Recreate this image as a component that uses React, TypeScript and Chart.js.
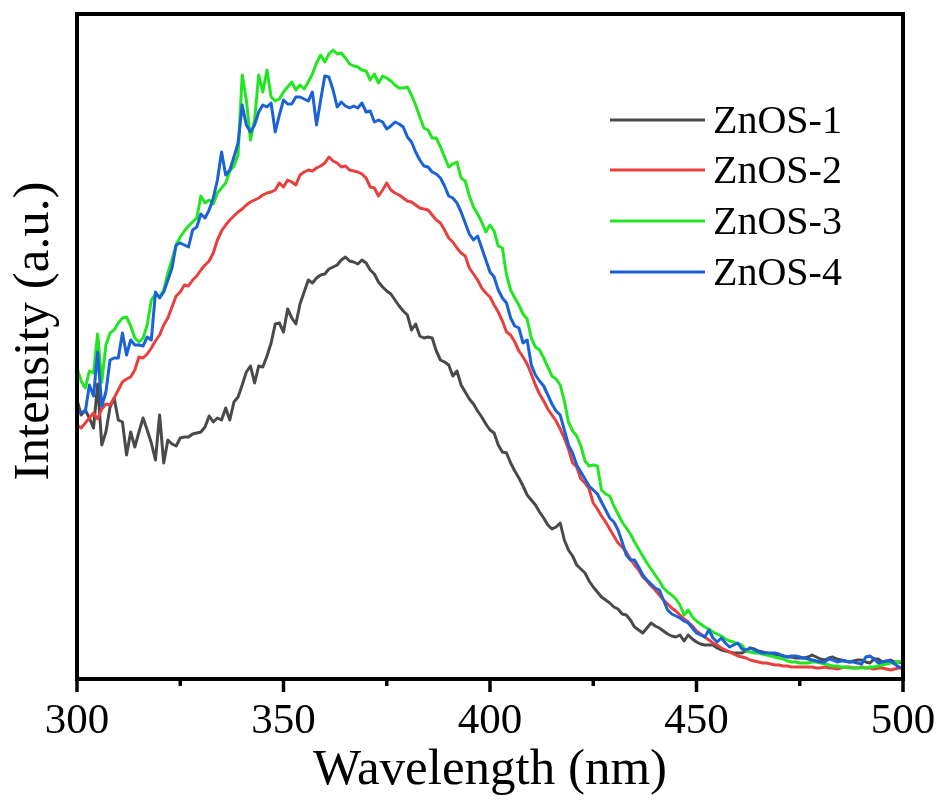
import React, { useEffect, useRef } from "react";
import { Chart, registerables } from "chart.js";

Chart.register(...registerables);

// Wavelength grid (nm), 1 nm step
const wavelengths: number[] = Array.from({ length: 201 }, (_, i) => 300 + i);

const seriesNames = ["ZnOS-1", "ZnOS-2", "ZnOS-3", "ZnOS-4"];
const seriesColors = ["#4a4a4a", "#e8403f", "#22e622", "#1a62d6"];

const xTickValues = [300, 350, 400, 450, 500];

// Intensity (a.u.)
const znos1: number[] = [
  55.8, 52.8, 53.8, 52.2, 50.2, 59.0, 46.8, 49.4, 54.4, 56.2,
  51.8, 51.4, 44.8, 49.4, 46.4, 49.4, 52.2, 49.8, 47.2, 43.8,
  52.8, 43.2, 47.8, 47.0, 46.6, 48.2, 48.4, 48.4, 49.0, 49.2,
  49.4, 50.4, 52.6, 51.4, 52.2, 51.8, 54.2, 51.8, 55.4, 56.4,
  58.8, 61.4, 62.6, 59.2, 62.6, 62.4, 64.6, 67.2, 71.0, 71.2,
  69.4, 74.0, 72.2, 71.0, 75.0, 77.4, 79.8, 79.2, 80.2, 80.8,
  81.0, 82.0, 82.4, 82.8, 83.8, 84.4, 83.6, 83.4, 83.0, 83.8,
  83.2, 81.8, 81.0, 79.4, 78.4, 77.6, 77.0, 75.8, 74.6, 73.6,
  72.8, 69.8, 71.0, 68.6, 68.2, 68.4, 68.2, 65.6, 63.8, 63.4,
  62.8, 60.6, 61.6, 58.8, 57.4, 56.0, 55.0, 53.6, 52.4, 51.0,
  49.8, 49.2, 46.8, 45.4, 45.2, 43.2, 41.6, 40.2, 38.6, 36.8,
  35.8, 34.8, 33.4, 32.2, 30.8, 30.0, 30.4, 31.2, 27.8, 25.8,
  24.6, 22.8, 22.0, 21.2, 19.6, 18.4, 17.4, 16.4, 15.8, 15.2,
  14.4, 14.0, 13.0, 12.8, 11.8, 10.4, 9.8, 9.2, 10.2, 11.2,
  10.6, 10.2, 9.6, 9.0, 8.6, 8.4, 8.8, 7.6, 8.8, 8.0,
  7.4, 7.0, 6.8, 6.8, 6.8, 6.2, 5.8, 5.6, 5.4, 5.2,
  5.2, 5.2, 5.6, 6.2, 6.0, 5.6, 5.4, 5.2, 5.0, 4.8,
  4.8, 4.6, 4.4, 4.4, 4.2, 4.2, 4.2, 4.4, 4.8, 4.4,
  4.0, 3.8, 4.2, 4.4, 4.0, 3.8, 3.6, 3.4, 3.6, 3.8,
  3.8, 3.4, 3.2, 4.0, 4.0, 3.4, 3.6, 3.8, 3.4, 3.4,
  3.2,
];

const znos2: number[] = [
  50.8, 50.2, 51.2, 52.2, 53.2, 52.0, 54.0, 55.0, 54.8, 56.2,
  57.8, 59.4, 60.0, 60.4, 61.8, 64.4, 64.2, 65.0, 66.2, 67.6,
  68.8, 70.8, 72.2, 74.4, 76.6, 77.4, 78.8, 78.6, 79.8, 80.6,
  81.8, 82.8, 83.6, 85.2, 87.8, 89.6, 90.8, 91.8, 92.6, 93.4,
  94.0, 94.8, 95.4, 95.8, 96.2, 96.8, 97.2, 97.4, 97.8, 99.2,
  98.4, 99.8, 99.4, 98.8, 100.8, 101.4, 101.8, 101.6, 102.2, 102.6,
  103.2, 104.4, 103.6, 103.2, 102.4, 102.6, 101.8, 101.6, 101.4, 101.0,
  100.2, 98.4, 98.2, 96.6, 97.8, 99.2, 97.8, 97.2, 96.8, 96.2,
  95.6, 95.4, 94.8, 94.2, 94.0, 93.8, 92.8, 91.8, 91.2, 89.8,
  88.2, 87.4, 86.2, 85.2, 84.6, 82.2, 81.0, 79.8, 78.2, 77.2,
  76.4, 74.8, 73.4, 71.6, 69.4, 68.8, 67.4, 65.6, 64.4, 63.0,
  61.0, 58.8, 57.0, 55.6, 54.0, 52.8, 51.6, 50.0, 48.2, 46.0,
  43.2, 42.4, 40.0, 39.2, 38.0, 35.2, 34.0, 32.6, 31.4, 30.0,
  28.6, 27.2, 26.4, 25.4, 24.0, 22.8, 21.8, 20.4, 19.6, 18.6,
  17.8, 16.8, 15.8, 15.0, 14.2, 13.6, 12.8, 12.0, 11.4, 10.6,
  9.6, 9.0, 8.4, 7.8, 7.2, 6.8, 6.2, 5.8, 5.4, 5.0,
  4.6, 4.4, 4.2, 3.8, 3.6, 3.4, 3.2, 3.2, 3.0, 2.8,
  2.8, 2.6, 2.6, 2.4, 2.4, 2.4, 2.4, 2.4, 2.4, 2.2,
  2.2, 2.4, 2.2, 2.2, 2.0, 2.2, 2.4, 2.4, 2.2, 2.2,
  2.4, 2.2, 2.2, 2.0, 2.2, 2.2, 2.0, 1.8, 2.0, 2.2,
  2.2,
];

const znos3: number[] = [
  62.2, 59.6, 58.2, 61.6, 61.2, 69.0, 59.4, 66.8, 69.2, 69.8,
  71.2, 72.2, 72.4, 70.6, 68.2, 67.4, 68.2, 70.8, 75.8, 77.0,
  76.4, 77.8, 81.2, 83.8, 86.8, 88.4, 89.6, 90.6, 91.4, 92.2,
  96.6, 95.2, 95.8, 95.0, 97.2, 98.2, 99.2, 101.6, 102.6, 104.8,
  120.8, 115.8, 107.8, 111.8, 120.8, 117.4, 121.8, 116.4, 115.6, 116.0,
  117.4, 118.4, 119.4, 117.8, 118.8, 118.0, 119.4, 121.0, 123.2, 124.8,
  123.4, 125.0, 125.8, 125.0, 125.2, 124.2, 123.0, 122.6, 122.4, 121.8,
  121.6, 119.8, 121.0, 119.2, 120.6, 120.2, 119.6, 118.8, 118.2, 118.2,
  118.4, 116.8, 114.8, 112.4, 110.2, 109.8, 108.2, 108.2, 106.4, 104.4,
  102.4, 103.0, 103.4, 100.2, 99.6, 96.6, 94.4, 93.0, 91.4, 89.4,
  90.8, 89.6, 86.6, 86.2, 80.8, 77.8, 76.2, 74.8, 73.0, 72.0,
  68.2, 66.4, 65.8, 64.2, 62.4, 60.6, 60.0, 58.8, 55.6, 51.4,
  49.6, 48.6, 46.6, 43.6, 42.6, 42.8, 42.6, 37.8, 37.0, 36.6,
  34.6, 33.0, 31.4, 30.2, 29.0, 27.4, 26.0, 24.6, 23.2, 22.0,
  20.8, 19.6, 18.2, 17.4, 16.8, 16.0, 14.8, 12.8, 13.8, 12.4,
  11.6, 11.0, 10.4, 10.0, 9.4, 9.0, 8.6, 8.0, 7.6, 7.4,
  7.0, 6.8, 5.6, 5.4, 5.2, 5.2, 5.0, 4.8, 4.6, 4.4,
  4.2, 4.0, 3.6, 3.4, 3.4, 3.2, 3.2, 3.2, 3.4, 3.4,
  3.2, 3.0, 2.8, 2.6, 2.6, 2.4, 2.4, 2.2, 2.2, 2.2,
  2.2, 2.2, 2.4, 2.4, 2.6, 2.8, 3.0, 3.2, 3.2, 3.4,
  3.6,
];

const znos4: number[] = [
  53.8, 53.4, 53.4, 58.8, 56.6, 65.4, 54.6, 57.4, 63.8, 64.2,
  64.2, 69.2, 64.8, 67.8, 66.8, 66.8, 66.6, 68.4, 67.8, 77.4,
  76.2, 77.4, 79.8, 82.2, 86.8, 87.2, 86.8, 86.4, 89.8, 90.4,
  93.0, 92.2, 93.8, 96.2, 99.8, 105.4, 100.8, 101.8, 104.4, 107.2,
  114.8, 110.8, 109.4, 110.8, 113.4, 114.8, 114.4, 115.2, 109.4, 112.8,
  115.8, 115.0, 115.0, 116.4, 116.4, 116.0, 115.6, 117.4, 110.8, 115.8,
  120.6, 120.4, 117.8, 114.4, 115.4, 114.6, 114.2, 114.6, 114.2, 115.2,
  113.4, 113.6, 111.4, 111.8, 111.4, 110.0, 110.6, 111.4, 111.0, 110.4,
  108.4, 107.4, 105.4, 103.8, 102.6, 102.4, 101.4, 101.0, 100.2, 98.6,
  96.6, 96.2, 95.2, 93.4, 91.2, 89.0, 87.8, 88.6, 86.2, 83.8,
  81.4, 80.4, 77.8, 76.2, 75.2, 72.2, 70.6, 70.2, 67.2, 67.8,
  62.8, 60.8, 59.6, 58.6, 56.8, 55.0, 53.6, 52.8, 49.8, 46.8,
  45.2, 42.8, 41.4, 40.0, 38.6, 37.8, 37.0, 35.4, 33.8, 32.2,
  31.4, 29.8, 27.4, 24.8, 23.8, 23.8, 22.4, 20.8, 19.8, 19.0,
  18.2, 17.8, 15.8, 13.8, 13.0, 12.6, 12.2, 11.6, 11.2, 10.2,
  9.2, 8.8, 8.4, 9.8, 8.2, 7.4, 8.2, 7.2, 6.4, 6.8,
  7.2, 6.0, 5.8, 6.2, 5.8, 5.4, 5.2, 5.2, 5.2, 5.2,
  5.0, 4.6, 4.4, 4.6, 4.6, 4.4, 4.2, 4.0, 3.8, 3.6,
  3.4, 3.4, 4.0, 3.8, 3.4, 3.6, 3.6, 3.4, 3.4, 3.2,
  3.0, 4.4, 4.6, 4.0, 3.2, 3.4, 3.6, 3.6, 3.0, 2.4,
  2.2,
];

const seriesValues = [znos1, znos2, znos3, znos4];

const FONT = "'Liberation Serif', 'Times New Roman', serif";

const framePlugin = {
  id: "framePlugin",
  afterDraw(chart: any) {
    const { ctx, chartArea } = chart;
    const { left, right, top, bottom } = chartArea;
    const xScale = chart.scales.x;
    ctx.save();
    // frame
    ctx.strokeStyle = "#000";
    ctx.lineWidth = 4;
    ctx.strokeRect(left, top, right - left, bottom - top);
    // tick marks
    ctx.lineWidth = 3.5;
    ctx.lineCap = "butt";
    for (const t of xScale.ticks) {
      const px = xScale.getPixelForValue(t.value);
      const major = xTickValues.includes(t.value);
      ctx.beginPath();
      ctx.moveTo(px, bottom);
      ctx.lineTo(px, bottom + (major ? 13 : 7));
      ctx.stroke();
    }
    // y axis title
    ctx.fillStyle = "#000";
    ctx.font = `51px ${FONT}`;
    ctx.textAlign = "center";
    ctx.textBaseline = "alphabetic";
    ctx.translate(48, 331);
    ctx.rotate(-Math.PI / 2);
    ctx.fillText("Intensity (a.u.)", 0, 0);
    ctx.restore();

    // legend
    ctx.save();
    const datasets = chart.data.datasets;
    const rowY = [120, 170, 221, 272];
    ctx.font = `40px ${FONT}`;
    ctx.textAlign = "left";
    ctx.textBaseline = "alphabetic";
    datasets.forEach((ds: any, i: number) => {
      const y = rowY[i];
      ctx.strokeStyle = ds.borderColor;
      ctx.lineWidth = 3;
      ctx.beginPath();
      ctx.moveTo(610, y);
      ctx.lineTo(705, y);
      ctx.stroke();
      ctx.fillStyle = "#000";
      ctx.fillText(ds.label, 713, y + 13);
    });
    ctx.restore();
  },
};

export default function App() {
  const canvasRef = useRef<HTMLCanvasElement | null>(null);

  useEffect(() => {
    if (!canvasRef.current) return;
    const chart = new Chart(canvasRef.current, {
      type: "line",
      data: {
        labels: wavelengths,
        datasets: seriesNames.map((name, i) => ({
          label: name,
          data: wavelengths.map((w, j) => ({ x: w, y: seriesValues[i][j] })),
          borderColor: seriesColors[i],
          backgroundColor: seriesColors[i],
          borderWidth: 3,
          pointRadius: 0,
          tension: 0,
          fill: false,
          borderJoinStyle: "round" as const,
          order: 4 - i,
        })),
      },
      options: {
        animation: false,
        responsive: false,
        devicePixelRatio: 1,
        layout: { padding: { left: 77, top: 14, right: 38, bottom: 0 } },
        plugins: {
          legend: { display: false },
          tooltip: { enabled: false },
        },
        scales: {
          x: {
            type: "linear",
            min: 300,
            max: 500,
            grid: { display: false, drawTicks: false },
            border: { display: false },
            ticks: {
              stepSize: 25,
              autoSkip: false,
              maxRotation: 0,
              padding: 17,
              color: "#000",
              font: { family: FONT, size: 43 },
              callback: (v: any) => (xTickValues.includes(Number(v)) ? String(v) : ""),
            },
            title: {
              display: true,
              text: "Wavelength (nm)",
              color: "#000",
              font: { family: FONT, size: 51, lineHeight: 1.2 },
              padding: { top: 0, bottom: 2 },
            },
            afterFit: (scale: any) => {
              scale.height = 124;
              scale.paddingLeft = 0;
              scale.paddingRight = 0;
            },
          },
          y: {
            display: false,
            min: 0,
            max: 133,
          },
        },
      },
      plugins: [framePlugin],
    });
    return () => chart.destroy();
  }, []);

  return (
    <div style={{ position: "fixed", left: 0, top: 0, width: 941, height: 803, background: "#fff" }}>
      <canvas ref={canvasRef} width={941} height={803} />
    </div>
  );
}
